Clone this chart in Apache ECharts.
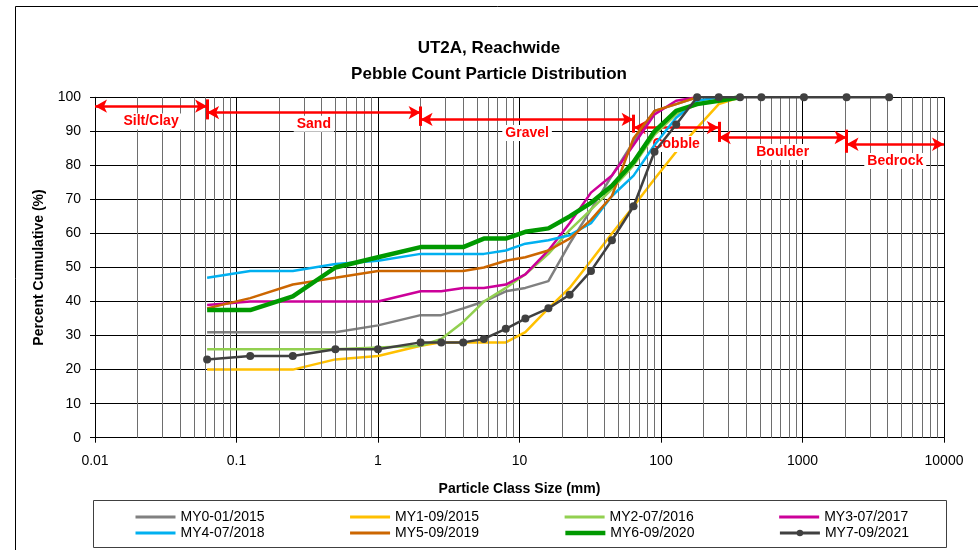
<!DOCTYPE html>
<html>
<head>
<meta charset="utf-8">
<script src="https://cdn.jsdelivr.net/npm/echarts@6/dist/echarts.min.js"></script>
<style>
  html, body { margin: 0; padding: 0; background: #fff; }
  #main { width: 978px; height: 550px; }
</style>
</head>
<body>
<div id="main"></div>
<script>
// sieve sizes (mm) and cumulative percent finer per monitoring year
var sizes = [0.062, 0.125, 0.25, 0.5, 1, 2, 2.8, 4, 5.6, 8, 11, 16, 22.6, 32, 45, 64, 90, 128, 180, 256, 362, 512, 1024, 2048, 4096];
var my0 = [31, 31, 31, 31, 33, 36, 36, 38, 40, 43, 44, 46, 57, 67, 77, 87, 96, 98, 100];
var my1 = [20, 20, 20, 23, 24, 27, 28, 28, 28, 28, 31, 38, 44, 52, 60, 68, 76, 84, 91, 98, 100];
var my2 = [26, 26, 26, 26, 26.5, 27, 29, 34, 40, 44, 48, 54, 61, 67, 73, 80, 89, 95, 98, 99, 100];
var my3 = [39, 40, 40, 40, 40, 43, 43, 44, 44, 45, 48, 55, 63, 72, 77, 86, 95, 99, 100];
var my4 = [47, 49, 49, 51, 52, 54, 54, 54, 54, 55, 57, 58, 59.5, 63, 71, 77, 86, 94, 99, 100];
var my5 = [38, 41, 45, 47, 49, 49, 49, 49, 50, 52, 53, 55, 58.5, 64, 71, 88, 96, 98, 100];
var my6 = [37.5, 37.5, 41.5, 50, 53, 56, 56, 56, 58.5, 58.5, 60.5, 61.5, 65, 69, 74, 81, 90, 96, 98, 99, 100];
var my7 = [23, 24, 24, 26, 26, 28, 28, 28, 29, 32, 35, 38, 42, 49, 58, 68, 84, 92, 100, 100, 100, 100, 100, 100, 100];

var seriesNames = ['MY0-01/2015', 'MY1-09/2015', 'MY2-07/2016', 'MY3-07/2017',
                   'MY4-07/2018', 'MY5-09/2019', 'MY6-09/2020', 'MY7-09/2021'];
var seriesValues = [my0, my1, my2, my3, my4, my5, my6, my7];
var seriesColors = ['#808080', '#FFC000', '#92D050', '#CC0099', '#00B0F0', '#CC6600', '#009900', '#404040'];

var xTickLabels = ['0.01', '0.1', '1', '10', '100', '1000', '10000'];

// size-class zones (red arrows)
var zoneNames = ['Silt/Clay', 'Sand', 'Gravel', 'Cobble', 'Boulder', 'Bedrock'];
var zoneBounds = [0.01, 0.062, 2, 64, 256, 2048, 10000];
var zoneArrowY = [97.4, 95.5, 93.5, 91.1, 88.2, 86.2];
var zoneLabelY = [92.9, 92.2, 89.5, 86.3, 83.9, 81.3];
var zoneBarTop = [null, 99.4, 97.3, 94.9, 92.8, 90.5];
var zoneBarBottom = [null, 93.5, 91.6, 89.6, 86.9, 83.7];

var chart = echarts.init(document.getElementById('main'));
var font = 'Liberation Sans, Arial, sans-serif';

function pairs(vals) {
  return vals.map(function (v, i) { return [sizes[i], v]; });
}

// minor log grid lines (2..9 in each decade)
var minorLines = [];
for (var e = -2; e < 4; e++) {
  for (var m = 2; m <= 9; m++) {
    minorLines.push({ xAxis: m * Math.pow(10, e) });
  }
}

var lines = seriesNames.map(function (name, i) {
  var last = i === 7;
  return {
    name: name,
    type: 'line',
    data: pairs(seriesValues[i]),
    color: seriesColors[i],
    showSymbol: last,
    symbol: last ? 'circle' : 'none',
    symbolSize: 8,
    lineStyle: { width: i === 6 ? 4.5 : 2.5, color: seriesColors[i] },
    itemStyle: { color: seriesColors[i] },
    z: 3 + i
  };
});

// legend entries: only MY7 shows a marker
function legendItems(names) {
  return names.map(function (n) {
    var w = n === 'MY6-09/2020' ? 4.5 : 3;
    var item = { name: n, lineStyle: { width: w } };
    if (n !== 'MY7-09/2021') item.itemStyle = { opacity: 0 };
    return item;
  });
}

var arrowData = [], barData = [], labelData = [];
zoneNames.forEach(function (name, i) {
  arrowData.push([{ coord: [zoneBounds[i], zoneArrowY[i]] }, { coord: [zoneBounds[i + 1], zoneArrowY[i]] }]);
  if (zoneBarTop[i] != null) {
    barData.push([{ coord: [zoneBounds[i], zoneBarTop[i]] }, { coord: [zoneBounds[i], zoneBarBottom[i]] }]);
  }
  labelData.push({ name: name, coord: [Math.sqrt(zoneBounds[i] * zoneBounds[i + 1]), zoneLabelY[i]] });
});

var legendText = { fontFamily: font, fontSize: 14, color: '#000' };

var option = {
  animation: false,
  backgroundColor: '#fff',
  title: {
    text: 'UT2A, Reachwide\nPebble Count Particle Distribution',
    left: 'center',
    top: 30,
    textStyle: { fontFamily: font, fontSize: 17, fontWeight: 'bold', color: '#000', lineHeight: 26 }
  },
  grid: { left: 95, right: 34, top: 97.3, bottom: 112.3 },
  xAxis: {
    type: 'log',
    logBase: 10,
    min: 0.01,
    max: 10000,
    splitNumber: 6,
    name: 'Particle Class Size (mm)',
    nameLocation: 'middle',
    nameGap: 44,
    nameTextStyle: { fontFamily: font, fontSize: 14, fontWeight: 'bold', color: '#000' },
    axisLine: { lineStyle: { color: '#000', width: 1 } },
    axisTick: { show: true, length: 5, lineStyle: { color: '#000' } },
    axisLabel: {
      fontFamily: font, fontSize: 14, color: '#000', margin: 16,
      formatter: function (v) { return xTickLabels[Math.round(Math.log10(v)) + 2]; }
    },
    splitLine: { show: true, lineStyle: { color: '#000', width: 1 } }
  },
  yAxis: {
    type: 'value',
    min: 0,
    max: 100,
    interval: 10,
    name: 'Percent Cumulative (%)',
    nameLocation: 'middle',
    nameGap: 49,
    nameTextStyle: { fontFamily: font, fontSize: 14, fontWeight: 'bold', color: '#000' },
    axisLine: { show: true, lineStyle: { color: '#000', width: 1 } },
    axisTick: { show: true, length: 5, lineStyle: { color: '#000' } },
    axisLabel: { fontFamily: font, fontSize: 14, color: '#000', margin: 14 },
    splitLine: { show: true, lineStyle: { color: '#000', width: 1 } }
  },
  legend: [
    {
      data: legendItems(seriesNames.slice(0, 4)),
      left: 129, top: 505, itemGap: 84, itemWidth: 40, itemHeight: 8,
      textStyle: legendText
    },
    {
      data: legendItems(seriesNames.slice(4)),
      left: 129, top: 521, itemGap: 84, itemWidth: 40, itemHeight: 8,
      textStyle: legendText
    }
  ],
  graphic: [
    { type: 'rect', shape: { x: 15.5, y: 6.5, width: 1000, height: 600 }, style: { fill: null, stroke: '#000', lineWidth: 1 }, silent: true },
    { type: 'rect', shape: { x: 93.5, y: 500.5, width: 853, height: 47 }, style: { fill: null, stroke: '#404040', lineWidth: 1 }, silent: true }
  ],
  series: [
    {
      name: 'minor-grid',
      type: 'line',
      data: [],
      z: 1,
      silent: true,
      markLine: {
        silent: true,
        symbol: 'none',
        label: { show: false },
        lineStyle: { type: 'solid', color: '#6e6e6e', width: 1 },
        data: minorLines
      }
    }
  ].concat(lines).concat([
    {
      name: 'zones',
      type: 'line',
      data: [],
      z: 20,
      silent: true,
      markLine: {
        silent: true,
        symbol: ['arrow', 'arrow'],
        symbolSize: [10, 12],
        label: { show: false },
        lineStyle: { type: 'solid', color: '#FF0000', width: 2.5 },
        data: arrowData
      },
      markPoint: {
        silent: true,
        symbol: 'rect',
        symbolSize: 1,
        itemStyle: { color: 'rgba(0,0,0,0)' },
        label: {
          show: true,
          position: 'inside',
          formatter: '{b}',
          fontFamily: font,
          fontSize: 14,
          fontWeight: 'bold',
          color: '#FF0000',
          backgroundColor: '#fff',
          padding: [1, 3]
        },
        data: labelData
      }
    },
    {
      name: 'zone-bars',
      type: 'line',
      data: [],
      z: 21,
      silent: true,
      markLine: {
        silent: true,
        symbol: 'none',
        label: { show: false },
        lineStyle: { type: 'solid', color: '#FF0000', width: 3 },
        data: barData
      }
    }
  ])
};

chart.setOption(option);
</script>
</body>
</html>
